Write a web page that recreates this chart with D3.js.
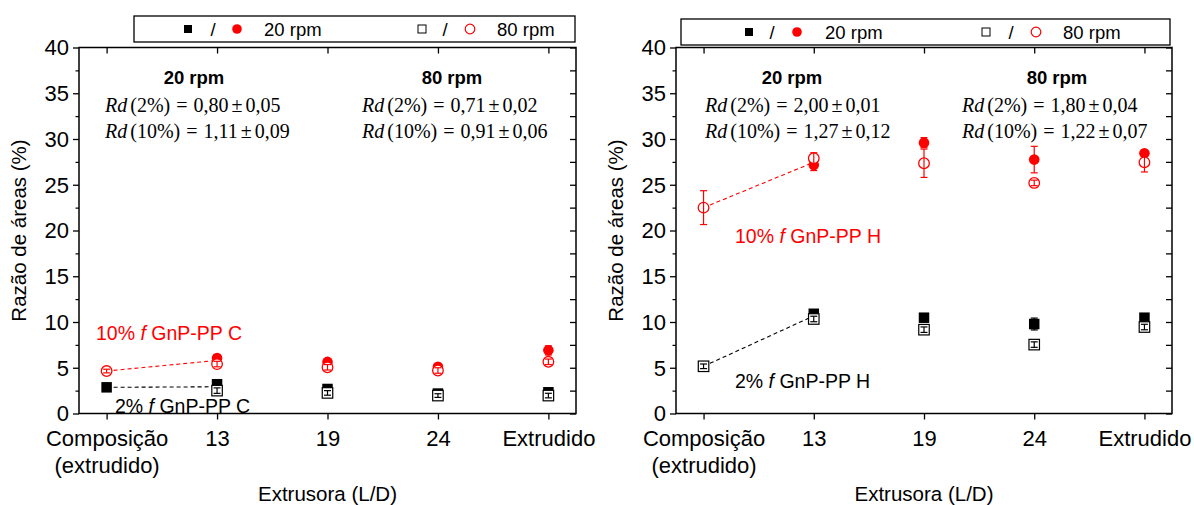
<!DOCTYPE html>
<html><head><meta charset="utf-8">
<script src="https://cdn.jsdelivr.net/npm/d3@7"></script>
<style>
body{margin:0;background:#fff}
text{font-family:"Liberation Sans",Arial,sans-serif;fill:#000}
</style>
</head><body>
<svg id="c" width="1194" height="505" xmlns="http://www.w3.org/2000/svg"></svg>
<script>
// ---------- data ----------
const categories = ["Composição", "13", "19", "24", "Extrudido"];
const categorySub = ["(extrudido)", "", "", "", ""];
const positions = [1, 2, 3, 4, 5];
const yTicks = [0, 5, 10, 15, 20, 25, 30, 35, 40];
const yMinorTicks = [2.5, 7.5, 12.5, 17.5, 22.5, 27.5, 32.5, 37.5];

// Left panel: fGnP-PP C
const C_black20 = [2.86, 3.2, 2.68, 2.18, 2.32];
const C_black20Err = [0.15, 0.3, 0.3, 0.2, 0.3];
const C_black80 = [null, 2.5, 2.25, 1.96, 1.96];
const C_black80Err = [0, 0.3, 0.25, 0.2, 0.25];
const C_red20 = [null, 6.07, 5.64, 5.1, 6.9];
const C_red20Err = [0, 0.3, 0.3, 0.3, 0.5];
const C_red80 = [4.64, 5.4, 5.05, 4.7, 5.65];
const C_red80Err = [0.2, 0.3, 0.3, 0.3, 0.3];

// Right panel: fGnP-PP H
const H_black20 = [null, 10.9, 10.47, 9.78, 10.47];
const H_black20Err = [0, 0.3, 0.3, 0.65, 0.3];
const H_black80 = [5.16, 10.33, 9.16, 7.53, 9.45];
const H_black80Err = [0.25, 0.3, 0.3, 0.3, 0.3];
const H_red20 = [null, 27.15, 29.6, 27.75, 28.45];
const H_red20Err = [0, 0.6, 0.55, 1.45, 0.3];
const H_red80 = [22.5, 27.9, 27.35, 25.2, 27.45];
const H_red80Err = [1.85, 0.6, 1.55, 0.3, 1.05];

const C_rd20 = [["2%", "0,80", "0,05"], ["10%", "1,11", "0,09"]];
const C_rd80 = [["2%", "0,71", "0,02"], ["10%", "0,91", "0,06"]];
const H_rd20 = [["2%", "2,00", "0,01"], ["10%", "1,27", "0,12"]];
const H_rd80 = [["2%", "1,80", "0,04"], ["10%", "1,22", "0,07"]];

const legendLabels = ["20 rpm", "80 rpm"];
const yTitle = "Razão de áreas (%)";
const xTitle = "Extrusora (L/D)";

// ---------- drawing ----------
const svg = d3.select("#c");
const RED = "#ff0000";

function zip(vals, errs) {
  return vals.map((v, i) => ({x: positions[i], v, e: errs[i]})).filter(d => d.v !== null);
}

function panel(cfg) {
  const x = d3.scaleLinear().domain([0.75, 5.25]).range([cfg.x0, cfg.x1]);
  const y = d3.scaleLinear().domain([0, 40]).range([413.5, 47.5]);
  const g = svg.append("g");

  // legend box
  const lg = g.append("g");
  lg.append("rect").attr("x", cfg.lx0).attr("y", cfg.ly0).attr("width", cfg.lx1 - cfg.lx0)
    .attr("height", 26).attr("fill", "#fff").attr("stroke", "#000").attr("stroke-width", 1.3);
  const ly = cfg.ly0 + 13;
  const L = cfg.legend;
  lg.append("rect").attr("x", L[0] - 4).attr("y", ly - 4).attr("width", 8).attr("height", 8).attr("fill", "#000");
  lg.append("text").attr("x", L[1]).attr("y", ly + 6.5).attr("text-anchor", "middle").attr("font-size", 18.5).text("/");
  lg.append("circle").attr("cx", L[2]).attr("cy", ly).attr("r", 4.8).attr("fill", RED);
  lg.append("text").attr("x", L[3]).attr("y", ly + 6.5).attr("font-size", 18.5).text(legendLabels[0]);
  lg.append("rect").attr("x", L[4] - 4).attr("y", ly - 4).attr("width", 8).attr("height", 8).attr("fill", "#fff").attr("stroke", "#000").attr("stroke-width", 1);
  lg.append("text").attr("x", L[5]).attr("y", ly + 6.5).attr("text-anchor", "middle").attr("font-size", 18.5).text("/");
  lg.append("circle").attr("cx", L[6]).attr("cy", ly).attr("r", 4.8).attr("fill", "#fff").attr("stroke", RED).attr("stroke-width", 1.2);
  lg.append("text").attr("x", L[7]).attr("y", ly + 6.5).attr("font-size", 18.5).text(legendLabels[1]);

  // frame
  g.append("rect").attr("x", cfg.x0).attr("y", y(40)).attr("width", cfg.x1 - cfg.x0).attr("height", y(0) - y(40))
    .attr("fill", "none").attr("stroke", "#000").attr("stroke-width", 1.5);

  // left axis
  const la = g.append("g").attr("transform", `translate(${cfg.x0},0)`)
    .call(d3.axisLeft(y).tickValues(yTicks).tickSize(6).tickPadding(4).tickFormat(d3.format("d")));
  la.select(".domain").remove();
  la.selectAll("line").attr("stroke-width", 1.3);
  la.selectAll("text").attr("font-size", 22).attr("font-family", "Liberation Sans, Arial, sans-serif").attr("dy", "0.34em");
  const lam = g.append("g").attr("transform", `translate(${cfg.x0},0)`)
    .call(d3.axisLeft(y).tickValues(yMinorTicks).tickSize(3.5).tickFormat(""));
  lam.select(".domain").remove();
  lam.selectAll("line").attr("stroke-width", 1.2);

  // right axis (inward)
  const ra = g.append("g").attr("transform", `translate(${cfg.x1},0)`)
    .call(d3.axisRight(y).tickValues(yTicks.concat(yMinorTicks)).tickSize(-6).tickFormat(""));
  ra.select(".domain").remove();
  ra.selectAll("line").attr("stroke-width", 1.3);

  // bottom axis
  const ba = g.append("g").attr("transform", `translate(0,${y(0)})`)
    .call(d3.axisBottom(x).tickValues(positions).tickSize(6).tickPadding(11).tickFormat((d, i) => categories[i]));
  ba.select(".domain").remove();
  ba.selectAll("line").attr("stroke-width", 1.3);
  ba.selectAll("text").attr("font-size", 22).attr("font-family", "Liberation Sans, Arial, sans-serif")
    .each(function(d, i) {
      if (categorySub[i]) {
        d3.select(this).append("tspan").attr("x", 0).attr("dy", "1.22em").text(categorySub[i]);
      }
    });
  // top axis (inward)
  const ta = g.append("g").attr("transform", `translate(0,${y(40)})`)
    .call(d3.axisTop(x).tickValues(positions).tickSize(-6).tickFormat(""));
  ta.select(".domain").remove();
  ta.selectAll("line").attr("stroke-width", 1.3);

  // titles
  g.append("text").attr("transform", `translate(${cfg.yTitleX},${(y(0) + y(40)) / 2}) rotate(-90)`)
    .attr("text-anchor", "middle").attr("font-size", 20.5).text(yTitle);
  g.append("text").attr("x", (cfg.x0 + cfg.x1) / 2).attr("y", 501).attr("text-anchor", "middle")
    .attr("font-size", 20.5).text(xTitle);

  // annotations
  function rdBlock(cx, xLeft, header, rows) {
    g.append("text").attr("x", cx).attr("y", 84).attr("text-anchor", "middle").attr("font-size", 18.5)
      .attr("font-weight", "bold").text(header);
    rows.forEach((r, i) => {
      const t = g.append("text").attr("x", xLeft).attr("y", 112 + i * 26).attr("font-size", 20)
        .style("font-family", "Liberation Serif, Times New Roman, serif");
      t.append("tspan").attr("font-style", "italic").text("Rd");
      t.append("tspan").attr("dx", 3).text(`(${r[0]})`);
      t.append("tspan").attr("dx", 6).text("=");
      t.append("tspan").attr("dx", 6).text(r[1]);
      t.append("tspan").attr("dx", 3).text("±");
      t.append("tspan").attr("dx", 3).text(r[2]);
    });
  }
  rdBlock(cfg.a20[0], cfg.a20[1], legendLabels[0], cfg.rd20);
  rdBlock(cfg.a80[0], cfg.a80[1], legendLabels[1], cfg.rd80);

  // dashed link lines: composition point -> L/D 13 points
  function link(comp, s20, s80, color, w) {
    const c0 = comp[0];
    const m = s20[1] * w + s80[1] * (1 - w);
    g.append("line").attr("x1", x(1)).attr("y1", y(c0)).attr("x2", x(2)).attr("y2", y(m))
      .attr("stroke", color).attr("stroke-width", 1.1).attr("stroke-dasharray", "4,3");
  }
  link(cfg.black20[0] !== null ? cfg.black20 : cfg.black80, cfg.black20, cfg.black80, "#000", 0.6);
  link(cfg.red20[0] !== null ? cfg.red20 : cfg.red80, cfg.red20, cfg.red80, RED, 0.6);

  // markers
  const S = 10.5, R = 5.3;
  function errBars(data, color) {
    const eg = g.append("g").attr("stroke", color).attr("stroke-width", 1.2);
    data.filter(d => d.e > 0).forEach(d => {
      eg.append("line").attr("x1", x(d.x)).attr("x2", x(d.x)).attr("y1", y(d.v - d.e)).attr("y2", y(d.v + d.e));
      [d.v - d.e, d.v + d.e].forEach(v => eg.append("line").attr("x1", x(d.x) - 3.5).attr("x2", x(d.x) + 3.5)
        .attr("y1", y(v)).attr("y2", y(v)));
    });
  }
  function squares(data, filled) {
    g.append("g").selectAll("rect").data(data).join("rect")
      .attr("x", d => x(d.x) - S / 2).attr("y", d => y(d.v) - S / 2).attr("width", S).attr("height", S)
      .attr("fill", filled ? "#000" : "#fff").attr("stroke", "#000").attr("stroke-width", filled ? 0 : 1.2);
  }
  function circles(data, filled) {
    g.append("g").selectAll("circle").data(data).join("circle")
      .attr("cx", d => x(d.x)).attr("cy", d => y(d.v)).attr("r", R)
      .attr("fill", filled ? RED : "#fff").attr("stroke", RED).attr("stroke-width", filled ? 0 : 1.3);
  }
  const b20 = zip(cfg.black20, cfg.black20Err), b80 = zip(cfg.black80, cfg.black80Err);
  const r20 = zip(cfg.red20, cfg.red20Err), r80 = zip(cfg.red80, cfg.red80Err);
  errBars(b20, "#000"); squares(b20, true);
  errBars(r20, RED); circles(r20, true);
  squares(b80, false); errBars(b80, "#000");
  circles(r80, false); errBars(r80, RED);

  // series labels
  const l10 = g.append("text").attr("x", cfg.lab10[0]).attr("y", cfg.lab10[1]).attr("font-size", 19.5).style("fill", RED);
  l10.append("tspan").text("10% ");
  l10.append("tspan").attr("font-style", "italic").text("f");
  l10.append("tspan").text(" GnP-PP " + cfg.tag);
  const l2 = g.append("text").attr("x", cfg.lab2[0]).attr("y", cfg.lab2[1]).attr("font-size", 19.5);
  l2.append("tspan").text("2% ");
  l2.append("tspan").attr("font-style", "italic").text("f");
  l2.append("tspan").text(" GnP-PP " + cfg.tag);
}

panel({
  x0: 79, x1: 576, lx0: 134, lx1: 575, ly0: 16,
  legend: [188, 213, 237, 264, 422, 445, 470, 497],
  yTitleX: 26, tag: "C",
  black20: C_black20, black20Err: C_black20Err, black80: C_black80, black80Err: C_black80Err,
  red20: C_red20, red20Err: C_red20Err, red80: C_red80, red80Err: C_red80Err,
  a20: [194, 105], a80: [452, 362], rd20: C_rd20, rd80: C_rd80,
  lab10: [96, 340], lab2: [115, 413]
});
panel({
  x0: 676, x1: 1172, lx0: 681, lx1: 1170, ly0: 19,
  legend: [749, 772, 797, 825, 986, 1011, 1036, 1063],
  yTitleX: 623, tag: "H",
  black20: H_black20, black20Err: H_black20Err, black80: H_black80, black80Err: H_black80Err,
  red20: H_red20, red20Err: H_red20Err, red80: H_red80, red80Err: H_red80Err,
  a20: [792, 705], a80: [1057, 962], rd20: H_rd20, rd80: H_rd80,
  lab10: [735, 243], lab2: [735, 388]
});
</script>
</body></html>
